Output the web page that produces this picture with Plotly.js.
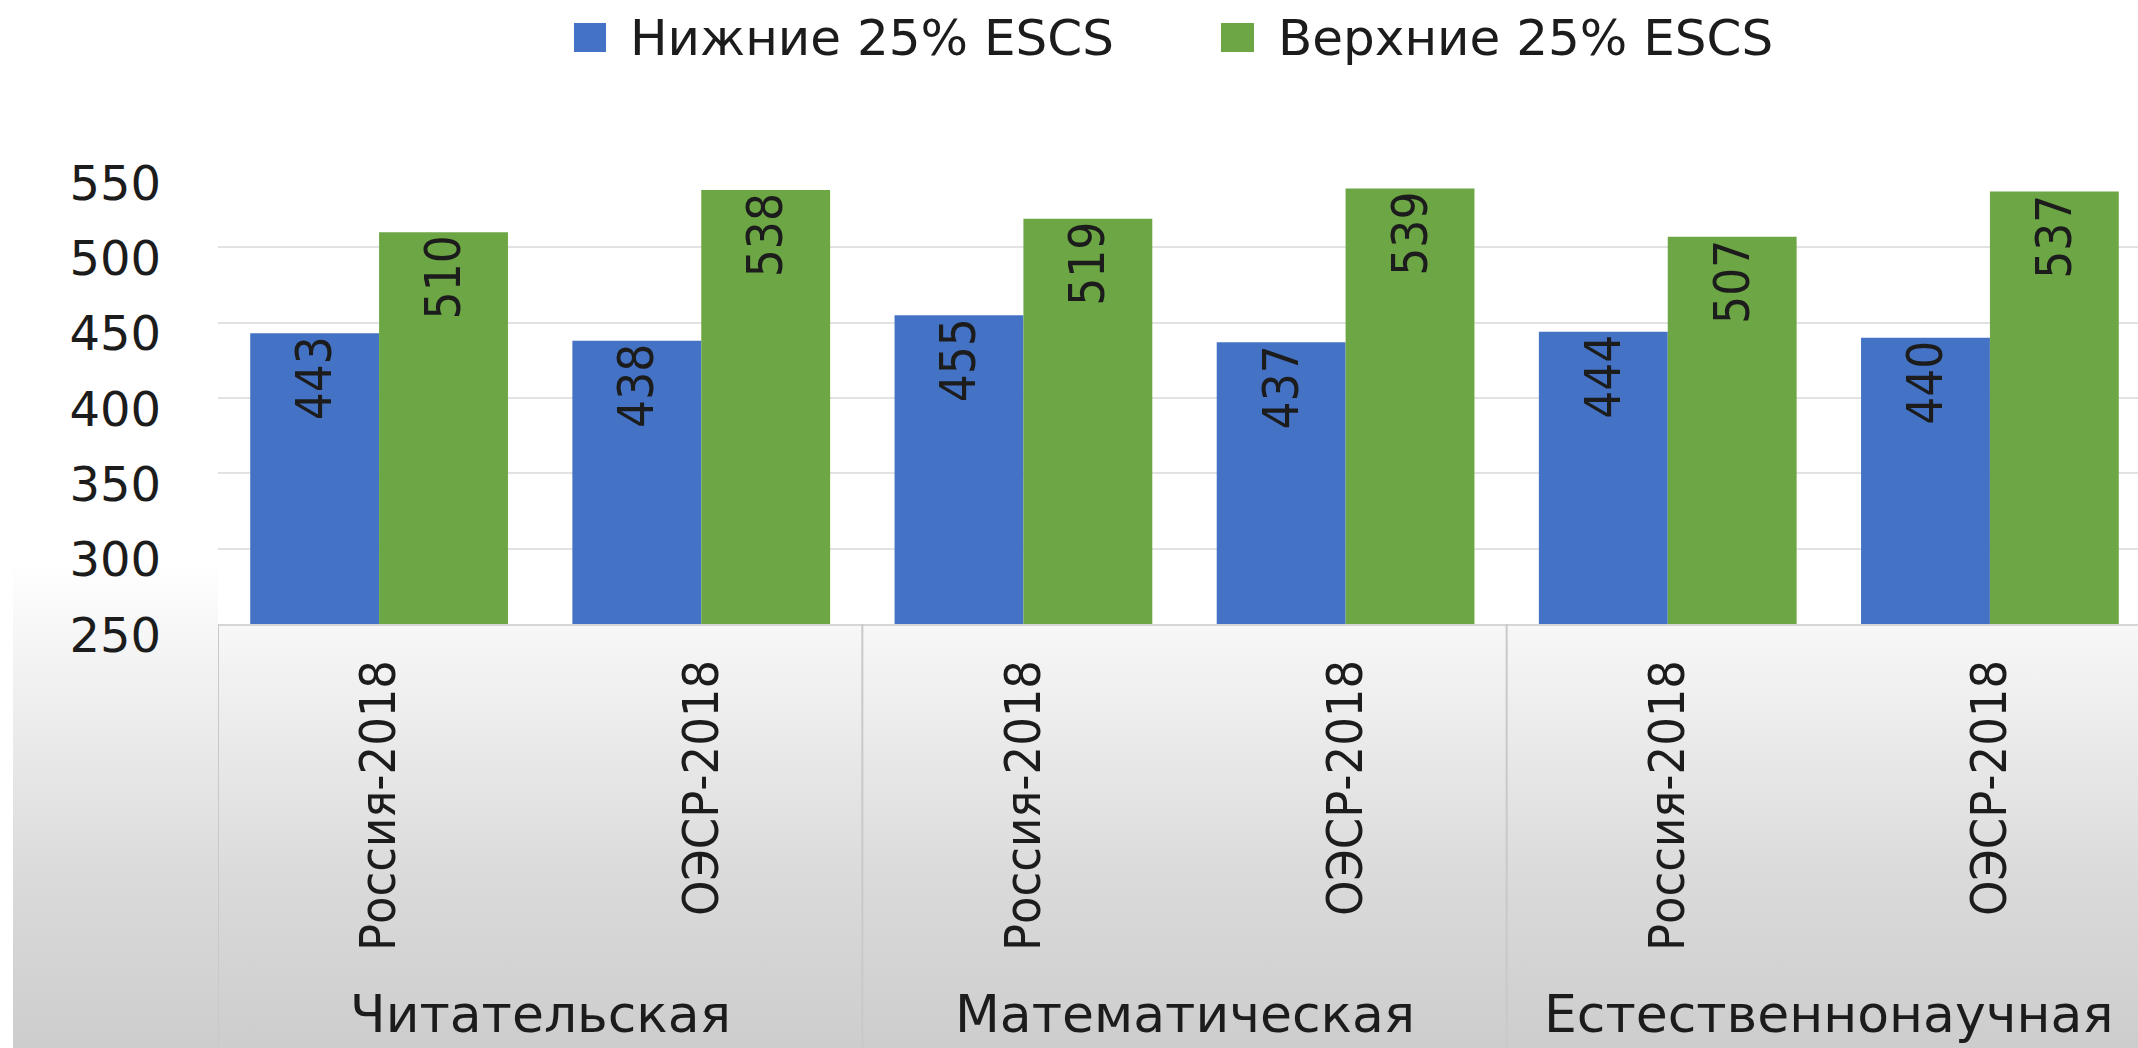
<!DOCTYPE html>
<html>
<head>
<meta charset="utf-8">
<script src="https://cdn.plot.ly/plotly-3.0.1.min.js"></script>
<style>
  html, body { margin: 0; padding: 0; width: 2138px; height: 1048px; overflow: hidden; }
  body {
    background:
      linear-gradient(to right, #ffffff 0px, #ffffff 13px, rgba(255,255,255,0) 13px),
      linear-gradient(to bottom, #ffffff 0px, #ffffff 560px, #f1f1f1 680px, #dadada 880px, #cdcdcd 1048px);
  }
  #chart { width: 2160px; height: 1048px; }
</style>
</head>
<body>
<div id="chart"></div>
<script>
// ---- data ----
const groupNames = ['Читательская', 'Математическая', 'Естественнонаучная'];
const subgroupNames = ['Россия-2018', 'ОЭСР-2018'];
const seriesNames = ['Нижние 25% ESCS', 'Верхние 25% ESCS'];
const lowerValues = [443, 438, 455, 437, 444, 440];
const upperValues = [510, 538, 519, 539, 507, 537];
const yTickValues = [250, 300, 350, 400, 450, 500, 550];

// ---- styles ----
const seriesColors = ['#4472C4', '#6CA645'];
const wideFont = 'DejaVu Sans, Verdana, sans-serif';
const narrowFont = 'DejaVu Sans Condensed, Liberation Sans Narrow, Liberation Sans, sans-serif';
const textColor = '#1c1c1c';

// category positions built from groups x subgroups
const xIndex = [];
const xTickText = [];
groupNames.forEach((g, gi) => {
  subgroupNames.forEach((s, si) => {
    xIndex.push(gi * subgroupNames.length + si);
    xTickText.push(s);
  });
});

const W = 2160, H = 1048;
const M = { l: 218, r: 9, t: 172, b: 424 };
const plotW = W - M.l - M.r, plotH = H - M.t - M.b;
const px2paperX = px => (px - M.l) / plotW;
const px2paperY = py => (H - M.b - py) / plotH;

function barTrace(name, values, color) {
  return {
    type: 'bar',
    name: name,
    x: xIndex,
    y: values,
    marker: { color: color, line: { width: 0 } },
    text: values.map(v => String(v)),
    textposition: 'inside',
    insidetextanchor: 'end',
    textangle: -90,
    textfont: { family: narrowFont, size: 49, color: textColor },
    constraintext: 'none',
    hoverinfo: 'skip',
    showlegend: false
  };
}

const data = [
  barTrace(seriesNames[0], lowerValues, seriesColors[0]),
  barTrace(seriesNames[1], upperValues, seriesColors[1])
];

// group labels and dividers
const annotations = [];
const shapes = [];
groupNames.forEach((g, gi) => {
  const first = gi * subgroupNames.length;
  const last = first + subgroupNames.length - 1;
  annotations.push({
    xref: 'x', yref: 'paper',
    x: (first + last) / 2, y: px2paperY(1014),
    xanchor: 'center', yanchor: 'middle',
    text: g, showarrow: false,
    font: { family: wideFont, size: 52, color: textColor }
  });
});
for (let gi = 0; gi <= groupNames.length; gi++) {
  const xb = gi * subgroupNames.length - 0.5;
  shapes.push({
    type: 'line', xref: 'x', yref: 'paper',
    x0: xb, x1: xb, y0: 0, y1: px2paperY(1060),
    line: { color: '#c9c9c9', width: 2 }
  });
}

// legend (drawn manually so the swatches match the large text)
const legendItems = [
  { sq: [574, 606], textX: 628 },
  { sq: [1221, 1254], textX: 1276 }
];
seriesNames.forEach((n, i) => {
  const it = legendItems[i];
  shapes.push({
    type: 'rect', xref: 'paper', yref: 'paper',
    x0: px2paperX(it.sq[0]), x1: px2paperX(it.sq[1]),
    y0: px2paperY(52), y1: px2paperY(23),
    fillcolor: seriesColors[i], line: { width: 0 }
  });
  annotations.push({
    xref: 'paper', yref: 'paper',
    x: px2paperX(it.textX), y: px2paperY(38),
    xanchor: 'left', yanchor: 'middle',
    text: n, showarrow: false,
    font: { family: wideFont, size: 50, color: textColor }
  });
});

const layout = {
  width: W, height: H,
  margin: M,
  paper_bgcolor: 'rgba(0,0,0,0)',
  plot_bgcolor: '#ffffff',
  barmode: 'group',
  bargap: 0.2,
  bargroupgap: 0,
  showlegend: false,
  xaxis: {
    type: 'linear',
    range: [-0.5, xIndex.length - 0.5],
    tickmode: 'array',
    tickvals: xIndex,
    ticktext: xTickText,
    tickangle: -90,
    tickfont: { family: narrowFont, size: 50, color: textColor },
    ticks: '',
    ticklabelstandoff: 14,
    showgrid: false,
    zeroline: false,
    showline: true,
    linecolor: '#d6d6d6',
    linewidth: 2,
    automargin: false,
    fixedrange: true
  },
  yaxis: {
    range: [250, 550],
    tickmode: 'array',
    tickvals: yTickValues,
    ticktext: yTickValues.map(String),
    tickfont: { family: wideFont, size: 48, color: textColor },
    ticks: '',
    ticklabelstandoff: 56,
    ticklabelshift: 11,
    showgrid: true,
    gridcolor: '#e2e2e2',
    gridwidth: 2,
    zeroline: false,
    showline: false,
    automargin: false,
    fixedrange: true
  },
  annotations: annotations,
  shapes: shapes
};

Plotly.newPlot('chart', data, layout, { displayModeBar: false, staticPlot: true, responsive: false });
</script>
</body>
</html>
